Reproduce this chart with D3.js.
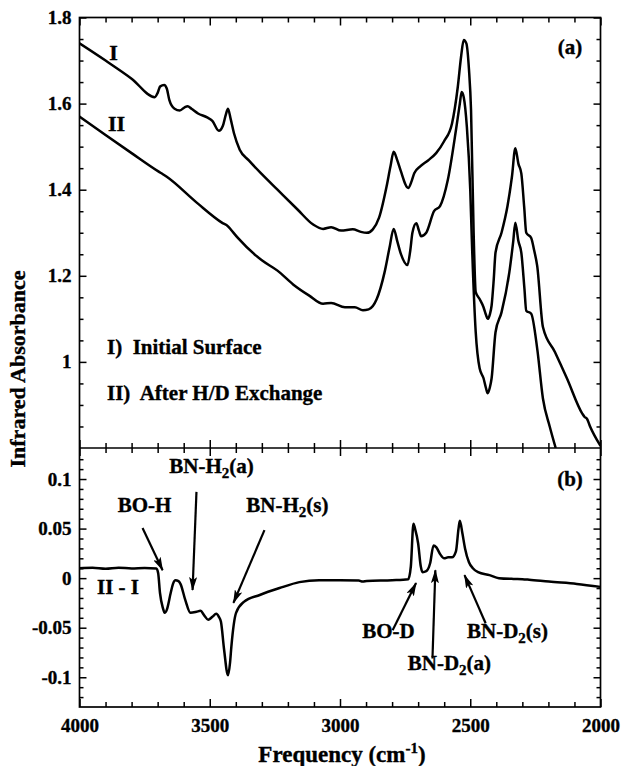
<!DOCTYPE html>
<html>
<head>
<meta charset="utf-8">
<script src="https://cdn.jsdelivr.net/npm/d3@7"></script>
<style>
  body { margin: 0; background: #fff; }
  svg text { font-family: 'Liberation Serif', 'DejaVu Serif', serif !important; font-weight: bold; fill: #000; stroke: #000; stroke-width: 0.35px; }
</style>
</head>
<body>
<svg id="chart" width="621" height="766"></svg>
<script>
// ---- data ----
const freqI = [4000,3900,3800,3711,3700,3690,3675,3665,3655,3635,3615,3595,3585,3570,3545,3510,3490,3465,3450,3438,3430,3420,3407,3385,3350,3300,3240,3163,3103,3065,3034,2996,2951,2920,2897,2874,2850,2821,2806,2794,2780,2768,2738,2725,2715,2692,2662,2631,2601,2570,2548,2535,2525,2515,2505,2497,2487,2479,2464,2449,2440,2433,2425,2418,2410,2403,2380,2357,2340,2327,2315,2304,2293,2285,2266,2255,2243,2221,2175,2129,2070,2061,2052,2040,2000];
const absI  = [1.74,1.70,1.658,1.615,1.625,1.64,1.643,1.635,1.608,1.588,1.584,1.592,1.594,1.588,1.577,1.568,1.560,1.537,1.548,1.575,1.588,1.565,1.531,1.493,1.468,1.436,1.400,1.354,1.319,1.309,1.313,1.305,1.308,1.302,1.300,1.308,1.335,1.408,1.455,1.488,1.468,1.446,1.404,1.42,1.438,1.454,1.468,1.485,1.512,1.554,1.638,1.71,1.748,1.74,1.68,1.585,1.30,1.162,1.146,1.127,1.11,1.10,1.11,1.131,1.19,1.254,1.30,1.362,1.43,1.496,1.46,1.438,1.36,1.30,1.288,1.26,1.223,1.081,1.023,0.962,0.88,0.872,0.868,0.85,0.805];

const freqII = [4000,3900,3800,3696,3680,3665,3550,3452,3430,3420,3392,3300,3240,3180,3118,3065,3034,2981,2943,2912,2890,2859,2829,2810,2794,2780,2768,2741,2730,2722,2707,2697,2689,2669,2639,2616,2586,2555,2540,2533,2525,2513,2500,2494,2479,2464,2449,2440,2433,2425,2418,2403,2380,2350,2335,2327,2315,2304,2292,2285,2266,2243,2221,2195,2172];
const absII  = [1.57,1.527,1.485,1.442,1.436,1.43,1.37,1.323,1.315,1.308,1.288,1.236,1.212,1.18,1.154,1.135,1.137,1.127,1.127,1.12,1.122,1.146,1.208,1.265,1.309,1.28,1.254,1.225,1.26,1.30,1.322,1.305,1.292,1.30,1.35,1.362,1.423,1.538,1.60,1.627,1.615,1.546,1.40,1.285,1.069,0.985,0.962,0.94,0.927,0.94,0.962,1.069,1.115,1.208,1.28,1.323,1.28,1.254,1.17,1.119,1.112,1.031,0.915,0.85,0.80];

const freqDiff = [4000,3950,3900,3850,3800,3750,3705,3698,3691,3680,3673,3665,3650,3640,3632,3620,3612,3594,3574,3551,3536,3520,3506,3490,3475,3465,3457,3445,3430,3422,3417,3399,3369,3308,3232,3156,3080,3000,2928,2913,2897,2800,2738,2728,2718,2712,2700,2690,2683,2669,2654,2641,2630,2615,2600,2585,2570,2555,2545,2540,2530,2520,2505,2490,2470,2426,2390,2334,2300,2274,2198,2091,2000];
const diffII_I = [0.010,0.0105,0.0095,0.0105,0.0098,0.0102,0.0098,0.005,-0.015,-0.03,-0.035,-0.032,-0.015,-0.005,-0.002,-0.003,-0.006,-0.022,-0.035,-0.034,-0.033,-0.038,-0.042,-0.039,-0.036,-0.039,-0.044,-0.072,-0.098,-0.085,-0.069,-0.035,-0.024,-0.017,-0.010,-0.004,-0.002,-0.002,-0.0024,-0.0035,-0.0028,-0.002,-0.001,0.012,0.055,0.05,0.035,0.012,0.006,0.007,0.015,0.033,0.031,0.024,0.02,0.021,0.021,0.027,0.05,0.058,0.045,0.03,0.016,0.01,0.006,0.003,0.0,-0.0008,-0.001,-0.0015,-0.0035,-0.0058,-0.0088];

const xMajorTicks = [4000, 3500, 3000, 2500, 2000];
const yTopTicks = [1.8, 1.6, 1.4, 1.2, 1];
const yBotTicks = [0.1, 0.05, 0, -0.05, -0.1];

// annotation labels for panel (b)
const peakLabels = [
  { parts: [["BO-H"]],                       f: 3750, v: 0.0616, tail: [3758, 0.0505], tip: [3681, 0.008] },
  { parts: [["BN-H"], ["2", "sub"], ["(a)"]], f: 3493, v: 0.101,  tail: [3551, 0.087],  tip: [3566, -0.012] },
  { parts: [["BN-H"], ["2", "sub"], ["(s)"]], f: 3202, v: 0.0616, tail: [3290, 0.0485], tip: [3409, -0.025] },
  { parts: [["BO-D"]],                       f: 2814, v: -0.065, tail: [2798, -0.0525], tip: [2708, -0.005] },
  { parts: [["BN-D"], ["2", "sub"], ["(a)"]], f: 2580, v: -0.098, tail: [2645, -0.081], tip: [2634, 0.008] },
  { parts: [["BN-D"], ["2", "sub"], ["(s)"]], f: 2357, v: -0.065, tail: [2441, -0.0455], tip: [2522, 0.003] }
];

// ---- layout ----
const FONT = "'Liberation Serif', 'DejaVu Serif', serif";
const svg = d3.select("#chart").style("font-family", FONT);
const pLeft = 79.5, pRight = 600.5, pTop = 17.5, pMid = 448, pBottom = 707;

const x = d3.scaleLinear().domain([4000, 2000]).range([pLeft, pRight]);
const yTop = d3.scaleLinear().domain([0.8, 1.8]).range([pMid, pTop]);
const yBot = d3.scaleLinear().domain([-0.13, 0.1313]).range([pBottom, pMid]);

const fmt = d => String(d);

function drawAxis(axis, tx, ty) {
  const g = svg.append("g").attr("transform", `translate(${tx},${ty})`).call(axis);
  g.attr("font-family", FONT).attr("font-size", 19);
  g.select(".domain").remove();
  g.selectAll("line").attr("stroke", "#000").attr("stroke-width", 1.5);
  g.selectAll("text").style("font-family", FONT).style("font-size", "19px");
  return g;
}

const xMinor = d3.range(4000, 1999, -100).filter(d => !xMajorTicks.includes(d));

// x ticks: top of panel (a), divider (both directions), bottom
[[d3.axisTop, pTop], [d3.axisBottom, pMid], [d3.axisTop, pMid], [d3.axisBottom, pBottom]].forEach(([ax, yy], i) => {
  const lab = i === 3;
  drawAxis(ax(x).tickValues(xMajorTicks).tickSize(-8).tickSizeOuter(0).tickPadding(12).tickFormat(lab ? fmt : ""), 0, yy);
  drawAxis(ax(x).tickValues(xMinor).tickSize(-5).tickSizeOuter(0).tickFormat(""), 0, yy);
});

// y ticks panel (a)
const yTopMinor = d3.range(0.85, 1.8, 0.05).map(d => +d.toFixed(2)).filter(d => !yTopTicks.includes(d));
drawAxis(d3.axisLeft(yTop).tickValues(yTopTicks).tickSize(-7).tickPadding(8).tickFormat(fmt), pLeft, 0);
drawAxis(d3.axisLeft(yTop).tickValues(yTopMinor).tickSize(-4).tickFormat(""), pLeft, 0);
drawAxis(d3.axisRight(yTop).tickValues(yTopTicks).tickSize(-7).tickFormat(""), pRight, 0);
drawAxis(d3.axisRight(yTop).tickValues(yTopMinor).tickSize(-4).tickFormat(""), pRight, 0);

// y ticks panel (b)
const yBotMinor = d3.range(-12, 13, 1).map(d => d / 100).filter(d => !yBotTicks.includes(d));
drawAxis(d3.axisLeft(yBot).tickValues(yBotTicks).tickSize(-7).tickPadding(8).tickFormat(fmt), pLeft, 0);
drawAxis(d3.axisLeft(yBot).tickValues(yBotMinor).tickSize(-4).tickFormat(""), pLeft, 0);
drawAxis(d3.axisRight(yBot).tickValues(yBotTicks).tickSize(-7).tickFormat(""), pRight, 0);
drawAxis(d3.axisRight(yBot).tickValues(yBotMinor).tickSize(-4).tickFormat(""), pRight, 0);

// frame lines
const frame = svg.append("g").attr("stroke", "#000").attr("stroke-width", 1.7);
frame.append("rect").attr("x", pLeft).attr("y", pTop).attr("width", pRight - pLeft).attr("height", pBottom - pTop).attr("fill", "none");
frame.append("line").attr("x1", pLeft).attr("x2", pRight).attr("y1", pMid).attr("y2", pMid);

// ---- curves ----
const lineTop = d3.line().x(d => x(d[0])).y(d => yTop(d[1])).curve(d3.curveMonotoneX);
const lineBot = d3.line().x(d => x(d[0])).y(d => yBot(d[1])).curve(d3.curveMonotoneX);

const defs = svg.append("defs");
defs.append("clipPath").attr("id", "clipTop")
  .append("rect").attr("x", pLeft).attr("y", pTop).attr("width", pRight - pLeft).attr("height", pMid - pTop);

const curves = svg.append("g").attr("clip-path", "url(#clipTop)")
  .attr("fill", "none").attr("stroke", "#000").attr("stroke-width", 2.5).attr("stroke-linejoin", "round");
curves.append("path").attr("d", lineTop(d3.zip(freqI, absI)));
curves.append("path").attr("d", lineTop(d3.zip(freqII, absII)));

svg.append("path").attr("d", lineBot(d3.zip(freqDiff, diffII_I)))
  .attr("fill", "none").attr("stroke", "#000").attr("stroke-width", 2.5).attr("stroke-linejoin", "round");

// ---- text labels ----
function label(tx, ty, str, size, anchor) {
  return svg.append("text").attr("x", tx).attr("y", ty).attr("dy", "0.35em")
    .attr("text-anchor", anchor || "start").style("font-size", size + "px").text(str);
}
label(x(3869), yTop(1.719), "I", 22, "middle");
label(x(3858), yTop(1.554), "II", 22, "middle");
label(570, 47, "(a)", 21, "middle");
label(570, 479, "(b)", 21, "middle");
label(107, 347, "I)  Initial Surface", 21).attr("xml:space", "preserve");
label(107, 393, "II)  After H/D Exchange", 21).attr("xml:space", "preserve");
label(97, 587, "II - I", 21);

// axis titles
svg.append("text").attr("transform", "translate(25,369) rotate(-90)")
  .attr("text-anchor", "middle").style("font-size", "22px").text("Infrared Absorbance");
const xt = svg.append("text").attr("x", 342).attr("y", 762).attr("text-anchor", "middle").style("font-size", "23px");
xt.append("tspan").text("Frequency (cm");
xt.append("tspan").attr("dy", -9).style("font-size", "15px").text("-1");
xt.append("tspan").attr("dy", 9).text(")");

// ---- arrows + peak labels in (b) ----
defs.append("marker").attr("id", "arrow")
  .attr("viewBox", "0 0 14 8").attr("refX", 13).attr("refY", 4)
  .attr("markerWidth", 14).attr("markerHeight", 8).attr("markerUnits", "userSpaceOnUse")
  .attr("orient", "auto")
  .append("path").attr("d", "M0,0 L14,4 L0,8 L3,4 Z").attr("fill", "#000");

peakLabels.forEach(p => {
  svg.append("line")
    .attr("x1", x(p.tail[0])).attr("y1", yBot(p.tail[1]))
    .attr("x2", x(p.tip[0])).attr("y2", yBot(p.tip[1]))
    .attr("stroke", "#000").attr("stroke-width", 2.2).attr("marker-end", "url(#arrow)");
  const t = svg.append("text").attr("x", x(p.f)).attr("y", yBot(p.v)).attr("dy", "0.35em")
    .attr("text-anchor", "middle").style("font-size", "21px");
  p.parts.forEach(([s, kind]) => {
    if (kind === "sub") t.append("tspan").attr("dy", 5).style("font-size", "15px").text(s);
    else t.append("tspan").attr("dy", t.selectAll("tspan").size() ? -5 : null).text(s);
  });
});
</script>
</body>
</html>
